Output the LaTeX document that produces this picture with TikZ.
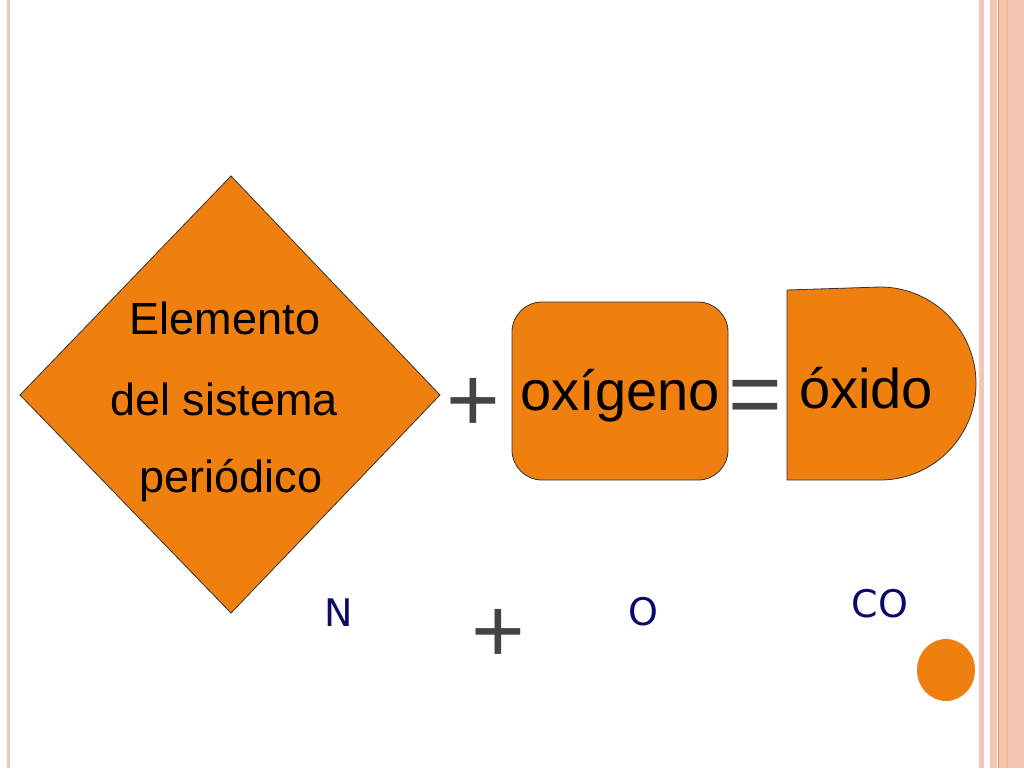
\documentclass[tikz,border=0pt]{standalone}
\usepackage{fontspec}
\setmainfont{Liberation Sans}
\newfontfamily\comic{DejaVu Sans}
\definecolor{org}{HTML}{EF7F0F}
\definecolor{pinkb}{HTML}{F5C5B3}
\definecolor{navy}{HTML}{0A0A6A}
\definecolor{grayp}{HTML}{444444}
\begin{document}
\begin{tikzpicture}[x=1pt,y=-1pt,
  shp/.style={fill=org,draw=black!80,line width=0.8pt},
  lbl/.style={font=\fontsize{45}{48}\selectfont,inner sep=0},
  big/.style={font=\fontsize{56}{60}\selectfont,inner sep=0},
  sym/.style={font=\fontsize{92}{92}\selectfont,text=grayp,inner sep=0},
  chem/.style={font=\comic\fontsize{38}{40}\selectfont,text=navy,inner sep=0}]
\useasboundingbox (0,0) rectangle (1024,768);
\fill[white] (0,0) rectangle (1024,768);
% borders
\fill[pinkb] (7,0) rectangle (10,768);
\fill[pinkb] (979,0) rectangle (984,768);
\fill[pinkb] (990,0) rectangle (997,768);
\fill[org!80] (997.5,0) rectangle (999,768);
\fill[pinkb] (999,0) rectangle (1024,768);
\fill[pinkb!80!orange] (1006,0) rectangle (1008,768);
% shapes
\draw[shp] (231,176) -- (440,395) -- (231,613) -- (20,395) -- cycle;
\node[lbl] (e1) at (225,318) {Elemento};
\node[lbl] (e2) at (224,399) {del sistema};
\node[lbl] (e3) at (231,481) {periódico};
\draw[shp,rounded corners=30] (512,302) rectangle (728,480);
\node[big] (ox) at (620,396) {oxígeno};
\draw[shp] (787,480) -- (787,290) -- (880,287) arc[start angle=-90,end angle=90,x radius=96,y radius=96.5] -- cycle;
\node[big] (oxi) at (866,388) {óxido};
\node[sym] (p1) at (473,405) {+};
\node[sym] (eq) at (755,403) {=};
\node[sym] (p2) at (498,636) {+};
\node[chem] (n) at (339,613) {N};
\node[chem] (o) at (643,612) {O};
\node[chem] (co) at (880,604) {CO};
\fill[org] (946,670) ellipse[x radius=29,y radius=31];
\end{tikzpicture}
\end{document}
